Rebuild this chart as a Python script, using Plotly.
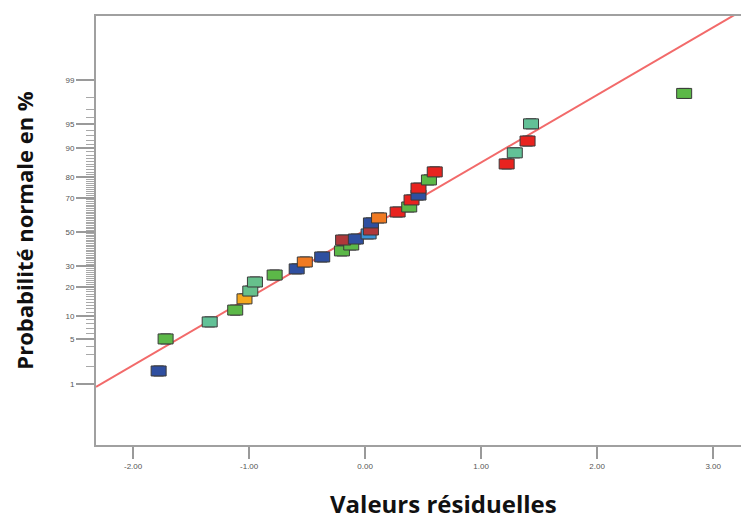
import plotly.graph_objects as go
from statistics import NormalDist

# Residuals (x) and normal probability in % (y)
residuals = [-1.78, -1.72, -1.34, -1.12, -1.04, -0.99, -0.95, -0.78, -0.59, -0.52,
             -0.37, -0.20, -0.12, -0.19, -0.08, 0.03, 0.05, 0.05, 0.12, 0.28,
             0.38, 0.40, 0.46, 0.46, 0.55, 0.60, 1.22, 1.29, 1.40, 1.43, 2.75]
probability = [1.67, 5.08, 8.43, 11.6, 15.3, 18.3, 22.2, 25.5, 28.6, 32.3,
               35.1, 38.6, 42.1, 45.1, 45.7, 48.8, 51.2, 55.5, 58.5, 62.0,
               64.9, 68.8, 71.4, 74.9, 78.7, 82.1, 85.1, 88.7, 91.8, 95.1, 98.3]
point_colors = ["#2f4fa0", "#5cb848", "#62c197", "#5cb848", "#f5a81e", "#66c08c", "#66c08c",
                "#5cb848", "#2f4fa0", "#f07a22", "#2f4fa0", "#5cb848", "#5cb848", "#b0383a",
                "#2f4fa0", "#3b93d6", "#b0383a", "#2f4fa0", "#f07a22", "#e8231f", "#5cb848",
                "#e8231f", "#2f4fa0", "#e8231f", "#5cb848", "#e8231f", "#e8231f", "#62c197",
                "#e8231f", "#62c197", "#5cb848"]

# Reference line (normal fit): z = slope * residual + intercept
line_slope = 1.034
line_intercept = 0.029

major_ticks = [1, 5, 10, 20, 30, 50, 70, 80, 90, 95, 99]
minor_ticks = [p for p in range(1, 100) if p not in major_ticks]
x_ticks = [-2, -1, 0, 1, 2, 3]
x_ticktext = ["-2.00", "-1.00", "0.00", "1.00", "2.00", "3.00"]

nd = NormalDist()
z = [nd.inv_cdf(p / 100) for p in probability]

x_range = [-2.32, 3.24]
y_range = [-3.26, 3.305]

fig = go.Figure()
lx = [x_range[0], x_range[1]]
fig.add_trace(go.Scatter(x=lx, y=[line_slope * v + line_intercept for v in lx],
                         mode="lines", line=dict(color="#f26a6a", width=2),
                         hoverinfo="skip", showlegend=False))
fig.add_trace(go.Scatter(x=residuals, y=z, mode="markers",
                         marker=dict(symbol="square", size=10, color=point_colors,
                                     line=dict(color="#333333", width=1)),
                         showlegend=False))

# rectangular markers anchored at data positions, pixel-sized
for xv, yv, c in zip(residuals, z, point_colors):
    fig.add_shape(type="rect", xref="x", yref="y",
                  xsizemode="pixel", ysizemode="pixel",
                  xanchor=xv, yanchor=yv, x0=-7.5, x1=7.5, y0=-5, y1=5,
                  fillcolor=c, line=dict(color="#3a3a3a", width=1), layer="above")

fig.update_layout(
    width=741, height=523,
    margin=dict(l=96, r=0, t=16, b=78),
    paper_bgcolor="white", plot_bgcolor="white",
    showlegend=False,
)
fig.add_annotation(text="<b>Valeurs résiduelles</b>", xref="paper", yref="paper",
                   x=0.5395, y=-0.136, xanchor="center", yanchor="middle",
                   showarrow=False, font=dict(family="Open Sans", size=24, color="#111111"))
fig.update_xaxes(
    range=x_range, tickvals=x_ticks, ticktext=x_ticktext,
    showgrid=False, zeroline=False,
    showline=True, linecolor="#a0a0a0", linewidth=2, mirror=True,
    ticks="outside", ticklen=12, tickwidth=2, tickcolor="#9a9a9a",
    tickfont=dict(family="Arial", size=8, color="#555555"),
)
fig.update_yaxes(
    range=y_range,
    tickvals=[nd.inv_cdf(p / 100) for p in major_ticks],
    ticktext=[str(p) for p in major_ticks],
    showgrid=False, zeroline=False,
    showline=True, linecolor="#a0a0a0", linewidth=2, mirror=False,
    ticks="outside", ticklen=18, tickwidth=1.5, tickcolor="#9a9a9a",
    tickfont=dict(family="Arial", size=8, color="#555555"),
    minor=dict(tickmode="array", tickvals=[nd.inv_cdf(p / 100) for p in minor_ticks],
               ticks="outside", ticklen=8, tickwidth=1, tickcolor="#a8a8a8", showgrid=False),
    title=dict(text="<b>Probabilité normale en %</b>", standoff=26,
               font=dict(family="Open Sans", size=22, color="#111111")),
)

fig.write_html("out.html")
